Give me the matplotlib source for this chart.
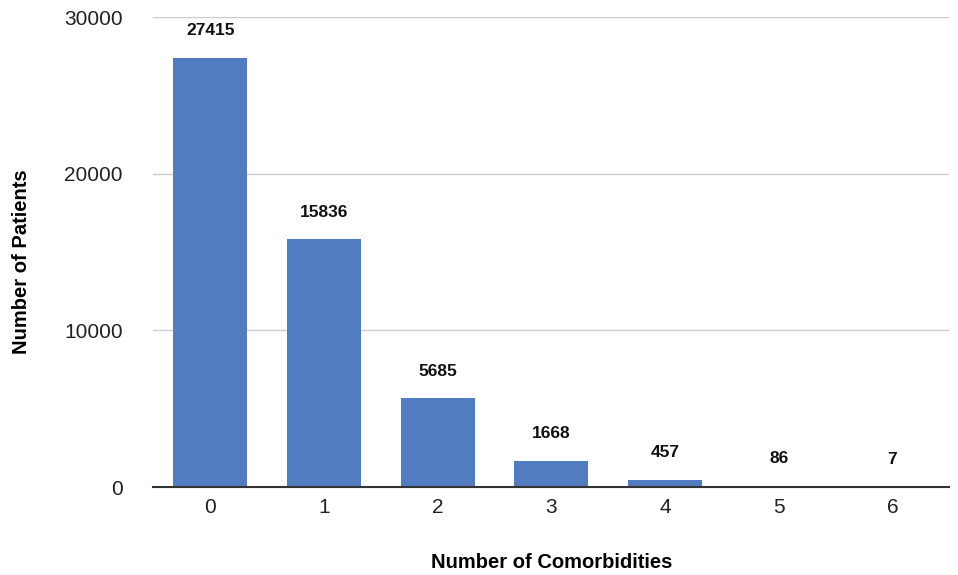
import numpy as np
from matplotlib import pyplot as plt

plt.rcParams['font.family'] = ['Liberation Sans', 'DejaVu Sans']

# Data
comorbidities = ["0", "1", "2", "3", "4", "5", "6"]
patients = [27415, 15836, 5685, 1668, 457, 86, 7]
y_ticks = [0, 10000, 20000, 30000]

bar_color = "#517dc0"

fig = plt.figure(figsize=(9.58, 5.75), dpi=100)
ax = fig.add_axes([0.160, 0.153, 0.831, 0.817])

x = np.arange(len(comorbidities))
bars = ax.bar(x, patients, width=0.65, color=bar_color, zorder=3)

for xi, v in zip(x, patients):
    ax.annotate(f"{v}", (xi, v), xytext=(0, 14), textcoords="offset points",
                ha="center", va="bottom", fontsize=12.5, fontweight="bold",
                color="#111111")

ax.set_xlim(-0.5, len(comorbidities) - 0.5)
ax.set_ylim(0, 30000)
ax.set_yticks(y_ticks)
ax.set_xticks(x)
ax.set_xticklabels(comorbidities)
ax.tick_params(axis="both", length=0, labelsize=15, colors="#222222")
ax.tick_params(axis="x", pad=8)
ax.tick_params(axis="y", pad=22)

ax.grid(axis="y", color="#cccccc", linewidth=1, zorder=0)
for s in ["top", "right", "left"]:
    ax.spines[s].set_visible(False)
ax.spines["bottom"].set_color("#333333")
ax.spines["bottom"].set_linewidth(1.5)
ax.spines["bottom"].set_zorder(4)

ax.set_xlabel("Number of Comorbidities", fontsize=14.5, fontweight="bold", labelpad=26)
ax.set_ylabel("Number of Patients", fontsize=14.5, fontweight="bold", labelpad=24, y=0.479)

fig.savefig("out.png", dpi=100)
